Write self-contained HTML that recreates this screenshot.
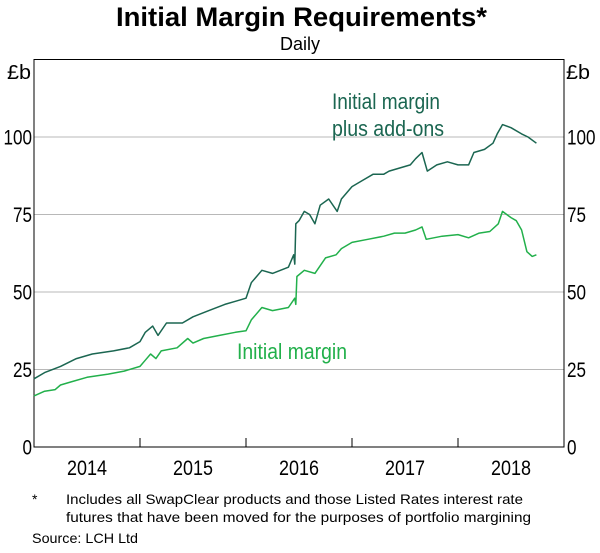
<!DOCTYPE html>
<html><head><meta charset="utf-8"><style>
body{margin:0;background:#fff;width:600px;height:548px;overflow:hidden;font-family:"Liberation Sans",Arial,sans-serif}
svg text{font-family:"Liberation Sans",Arial,sans-serif}
</style></head><body>
<svg id="chart" width="600" height="548" viewBox="0 0 600 548" xmlns="http://www.w3.org/2000/svg">
<text x="116" y="26" font-size="27" font-weight="bold" textLength="371" lengthAdjust="spacingAndGlyphs">Initial Margin Requirements*</text>
<text x="300" y="50" text-anchor="middle" font-size="18">Daily</text>
<g id="grid"></g>
<rect x="34" y="59.5" width="530" height="387.5" fill="none" stroke="#000" stroke-width="1"/>
<g id="series"></g>
<g id="axes"></g>
<text x="7" y="79" font-size="20" textLength="24" lengthAdjust="spacingAndGlyphs">£b</text>
<text x="566" y="79" font-size="20" textLength="24" lengthAdjust="spacingAndGlyphs">£b</text>
<text x="332" y="109" font-size="22" fill="#1b6651" textLength="108" lengthAdjust="spacingAndGlyphs">Initial margin</text>
<text x="332" y="136" font-size="22" fill="#1b6651" textLength="112" lengthAdjust="spacingAndGlyphs">plus add-ons</text>
<text x="237" y="359" font-size="22" fill="#22b04b" textLength="110" lengthAdjust="spacingAndGlyphs">Initial margin</text>
<text x="32" y="504" font-size="14">*</text>
<text x="66" y="504" font-size="14" textLength="457" lengthAdjust="spacingAndGlyphs">Includes all SwapClear products and those Listed Rates interest rate</text>
<text x="66" y="522" font-size="14" textLength="465" lengthAdjust="spacingAndGlyphs">futures that have been moved for the purposes of portfolio margining</text>
<text x="32" y="543" font-size="14" textLength="106" lengthAdjust="spacingAndGlyphs">Source:   LCH Ltd</text>
</svg>
<script>
const yTicks=[0,25,50,75,100];
const yearLabels=["2014","2015","2016","2017","2018"];
const addonDates=[2014.0,2014.1,2014.25,2014.4,2014.55,2014.75,2014.9,2015.0,2015.05,2015.12,2015.17,2015.25,2015.4,2015.5,2015.65,2015.8,2015.9,2016.0,2016.05,2016.15,2016.25,2016.4,2016.45,2016.46,2016.47,2016.5,2016.55,2016.6,2016.65,2016.7,2016.78,2016.86,2016.9,2017.0,2017.05,2017.1,2017.2,2017.3,2017.35,2017.45,2017.55,2017.6,2017.66,2017.71,2017.8,2017.9,2018.0,2018.1,2018.15,2018.25,2018.33,2018.37,2018.42,2018.5,2018.6,2018.66,2018.74];
const addonValues=[22,24,26,28.5,30,31,32,34,37,39,36,40,40,42,44,46,47,48,53,57,56,58,62,59,72,73,76,75,72,78,80,76,80,84,85,86,88,88,89,90,91,93,95,89,91,92,91,91,95,96,98,101,104,103,101,100,98];
const imDates=[2014.0,2014.1,2014.2,2014.25,2014.35,2014.5,2014.7,2014.85,2015.0,2015.05,2015.1,2015.15,2015.2,2015.35,2015.45,2015.5,2015.6,2015.75,2015.9,2016.0,2016.05,2016.15,2016.25,2016.4,2016.46,2016.47,2016.48,2016.55,2016.65,2016.75,2016.85,2016.9,2017.0,2017.15,2017.3,2017.4,2017.5,2017.6,2017.66,2017.7,2017.85,2018.0,2018.1,2018.2,2018.3,2018.38,2018.42,2018.5,2018.55,2018.6,2018.65,2018.7,2018.74];
const imValues=[16.5,18,18.5,20,21,22.5,23.5,24.5,26,28,30,28.5,31,32,35,33.5,35,36,37,37.5,41,45,44,45,48,46,55,57,56,61,62,64,66,67,68,69,69,70,71,67,68,68.5,67.5,69,69.5,72,76,74,73,70,63,61.5,62];
const X0=34,X1=564,Y0=447,YT=59.5;
const xs=d=>X0+(d-2014)/5*(X1-X0);
const ys=v=>Y0-v/125*(Y0-YT);
const NS="http://www.w3.org/2000/svg";
function mk(tag,attrs,parent){const e=document.createElementNS(NS,tag);for(const k in attrs)e.setAttribute(k,attrs[k]);parent.appendChild(e);return e;}
const grid=document.getElementById('grid'),axes=document.getElementById('axes'),series=document.getElementById('series');
yTicks.forEach(t=>{
  if(t>0){const g=mk('line',{x1:X0,x2:X1,y1:ys(t),y2:ys(t),stroke:'#b8b8b8','stroke-width':1},grid);
  
  }
  const w=String(t).length*9.5;
  const l=mk('text',{x:X0-w-2,y:ys(t)+7.5,'font-size':21,textLength:w,lengthAdjust:'spacingAndGlyphs'},axes);l.textContent=t;
  
  
  const r=mk('text',{x:X1+3,y:ys(t)+7.5,'font-size':21,textLength:w,lengthAdjust:'spacingAndGlyphs'},axes);r.textContent=t;
  
  
});
yearLabels.forEach((y,i)=>{
  const yr=2014+i;
  if(i>0){const tk=mk('line',{x1:xs(yr),x2:xs(yr),y1:Y0,y2:Y0-9,stroke:'#000'},axes);
  
  }
  const t=mk('text',{x:xs(yr+0.5)-20,y:Y0+28,'font-size':21,textLength:40,lengthAdjust:'spacingAndGlyphs'},axes);t.textContent=y;
  
  
});
function path(d,v){return d.map((x,i)=>(i?'L':'M')+xs(x).toFixed(1)+','+ys(v[i]).toFixed(1)).join('');}
const p1=mk('path',{d:path(addonDates,addonValues),fill:'none',stroke:'#1b6651','stroke-width':1.5,'stroke-linejoin':'round'},series);


const p2=mk('path',{d:path(imDates,imValues),fill:'none',stroke:'#22b04b','stroke-width':1.5,'stroke-linejoin':'round'},series);


</script>
</body></html>
